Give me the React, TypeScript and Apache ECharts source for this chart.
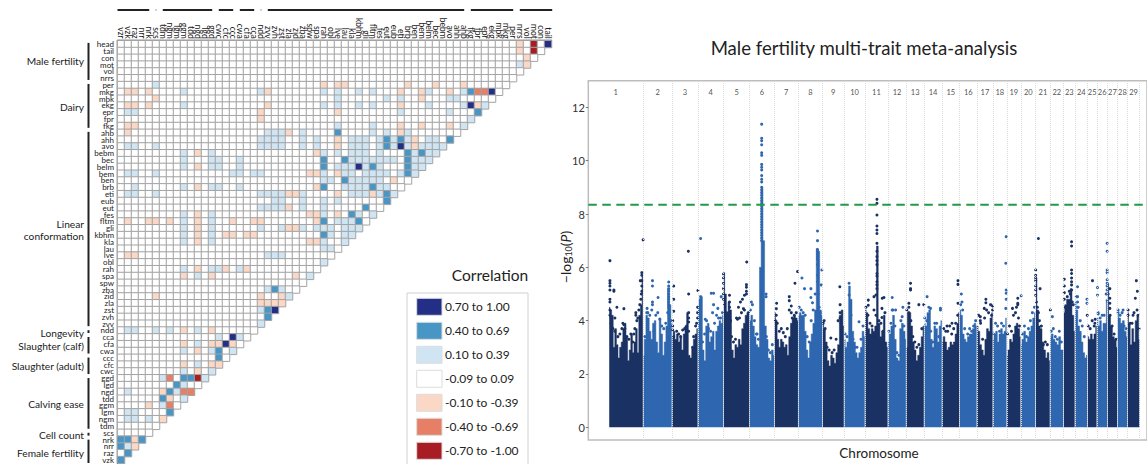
import React, { useEffect, useRef } from "react";
import * as echarts from "echarts";

const FONT = "Lato";

// ---------- correlation matrix ----------
const rowTraits = ["head","tail","con","mot","vol","nrrs","per","mkg","mbk","ekg","epr","fpr","fkg","ahb","ahh","avo","bebm","bec","belm","bem","ben","brb","eti","eub","eut","fes","fltm","gli","kbhm","kla","lau","lve","obl","rah","spa","spw","zba","zid","zla","zst","zvh","zvv","ndd","cca","cfa","cwa","ccc","cfc","cwc","ggd","lgd","ngd","tdd","ggm","lgm","ngm","tdm","scs","nrk","nrr","raz","vzk"];
const colTraits = ["vzr","vzk","raz","nrr","nrk","scs","tdm","ngm","lgm","ggm","tdd","ngd","lgd","ggd","cwc","cfc","ccc","cwa","cfa","cca","ndd","zvv","zvh","zst","zla","zid","zba","spw","spa","rah","obl","lve","lau","kla","kbhm","gli","fltm","fes","eut","eub","eti","brb","ben","bem","belm","bec","bebm","avo","ahh","ahb","fkg","fpr","epr","ekg","mbk","mkg","per","nrrs","vol","mot","con","tail"];

// [row index, column indices] per correlation class
type Cells = [number, number[]][];
const strongPos: Cells = [[0,[61]],[7,[53]],[9,[50]],[15,[40]],[18,[34]],[39,[22]],[43,[16]],[44,[15]]];
const midPos: Cells = [[7,[50]],[10,[51]],[13,[31]],[14,[38,40,47]],[15,[38]],[16,[41,43]],[17,[29,32,41]],[18,[29,36,41]],[19,[41]],[20,[32]],[21,[29,36]],[22,[38]],[23,[38]],[24,[35]],[25,[33]],[26,[29,34]],[28,[29]],[36,[22]],[39,[21]],[40,[21]],[45,[14]],[46,[14]],[49,[9,10]],[50,[8]],[51,[7]],[52,[6]],[54,[7]],[58,[0,1,3]],[59,[0]],[60,[1]],[61,[0]]];
const weakPos: Cells = [[3,[57]],[6,[5]],[7,[9,20,29,31,34,36,44,49]],[8,[31,38,40,47,48]],[9,[9,29,31,34,36,44,49,52]],[10,[1,2,40,47]],[11,[50]],[12,[31,36,49]],[13,[21,22,23,26,36,38,41]],[14,[20,21,22,23,26,28,33,34,35,37,39,41,44,45]],[15,[1,2,5,20,21,22,23,26,28,33,34,35,37,39,41,43,44,45,46]],[16,[9,13,29,31,33,34,35,37,42,44,45]],[17,[9,13,14,17,33,34,35,36,37,38,39,42,43,44]],[18,[9,13,14,17,31,32,33,35,37,42,43]],[19,[1,2,5,16,17,19,20,29,32,33,35,36,37,38,40,42]],[20,[29,30,33,34,35,36,37]],[21,[2,9,13,14,17,32,33,34,35,37,38]],[22,[1,2,5,20,21,22,23,26,33,34,35,37,39]],[23,[22,23,26,29,31]],[24,[20,21,22,23,26,29]],[25,[9,13,29,34,36]],[26,[9,13,31,32,33]],[27,[9,13,20,23,26,28,29,30,32,33,34]],[28,[9,13,30,32,33]],[29,[9,13,29,32]],[30,[29,30]],[31,[21,22,23]],[32,[29]],[33,[9,13,14,17]],[34,[11,27]],[36,[21,23]],[37,[24]],[39,[20]],[41,[20]],[42,[1,2,5,7,11]],[43,[14,17]],[44,[11]],[45,[9,13,16]],[47,[11]],[48,[9,13]],[49,[6,12]],[50,[9]],[51,[1,8]],[52,[9]],[53,[6]],[54,[1,2]],[55,[1,2,4]],[59,[1]]];
const weakNeg: Cells = [[0,[57]],[1,[57]],[2,[58]],[3,[58]],[6,[29,31,32,41,45,49]],[7,[1,2,4,21,40,43,47]],[8,[5,43]],[9,[1,2,4,21,40,51]],[10,[20,31]],[11,[20]],[12,[1,2,40,43,47]],[13,[1,24,40]],[14,[31,42]],[15,[31,42]],[16,[11,28]],[18,[11]],[19,[27,28,31]],[20,[39]],[21,[11,28]],[22,[24,25,31,36]],[24,[24]],[25,[11,27,28,31]],[26,[1,4,5,7,11,16,19,20,28]],[27,[11,24,25]],[28,[11,15,16,18,19]],[29,[11,27,28]],[31,[1,2]],[33,[11,15,18]],[34,[9,13,25]],[37,[5,20,23]],[38,[20,21,22,23]],[42,[9,13]],[44,[9,13,14,16]],[45,[11]],[47,[9,13,14]],[48,[11]],[51,[6]],[52,[7]],[53,[4]],[55,[6]],[58,[2]],[59,[2]]];
const midNeg: Cells = [[7,[51,52]],[49,[7]],[51,[9,10]],[53,[7]]];
const strongNeg: Cells = [[0,[59]],[1,[59]],[49,[11]]];

const legendLabels = ["0.70 to 1.00","0.40 to 0.69","0.10 to 0.39","-0.09 to 0.09","-0.10 to -0.39","-0.40 to -0.69","-0.70 to -1.00"];
const legendColors = ["#232f86","#4896c6","#d0e5f3","#ffffff","#fbd7c5","#e67f65","#a81c24"];
const classValues = [0.85,0.55,0.25,0,-0.25,-0.55,-0.85];

const groupLabels = [
  { text: "Male fertility", first: 0, last: 5, y: 61 },
  { text: "Dairy", first: 6, last: 12, y: 107 },
  { text: "Linear", first: 13, last: 41, y: 224 },
  { text: "conformation", first: -1, last: -1, y: 235.7 },
  { text: "Longevity", first: 42, last: 42, y: 332.7 },
  { text: "Slaughter (calf)", first: 43, last: 45, y: 345.7 },
  { text: "Slaughter (adult)", first: 46, last: 48, y: 366 },
  { text: "Calving ease", first: 49, last: 56, y: 404 },
  { text: "Cell count", first: 57, last: 57, y: 435 },
  { text: "Female fertility", first: 58, last: 61, y: 453.3 },
];
const topGroups = [[0,4],[5,5],[6,13],[14,16],[17,19],[20,20],[21,49],[50,56],[57,61]];

// ---------- Manhattan plot ----------
const chromosomes = Array.from({ length: 29 }, (_, i) => String(i + 1));
const chromEdges = [0,34.3,63.3,89.3,115,141.3,166,190,214.3,236,257,280,298.3,316.3,334.3,352,369.3,385.3,399.3,413.3,428.3,442.7,456.3,467.7,480.3,489.7,500.3,510.3,520.3,532.7];
const threshold = 8.35;
const yTicks = [0,2,4,6,8,10,12];

// skyline (top of the solid band) per chromosome, left to right
const chromTops = [
  [4.5,4.4,4.2,3.0,3.7,3.1,2.6,3.0,3.2,3.7,3.9,3.4,2.5,2.9,3.5,2.8,3.2,3.7,2.8,4.2,4.6,5.7],
  [2.7,3.3,4.2,4.1,3.6,3.3,3.9,4.0,3.2,2.8,4.1,3.5,2.7,3.2,3.8,5.2,4.6,3.9],
  [3.4,3.6,3.3,3.5,3.2,3.4,2.9,3.5,3.8,4.3,2.7,2.6,3.0,3.3,3.5,3.7],
  [4.5,4.8,4.9,2.9,2.5,3.8,3.9,3.2,3.4,3.6,2.9,3.6,3.8,4.0,3.9,4.2],
  [5.8,5.0,4.3,4.7,4.4,2.9,2.6,3.1,3.0,3.3,3.1,3.7,3.9,4.2,4.3,4.3],
  [4.0,4.2,3.8,3.4,3.1,3.0,6.0,9.0,7.0,3.8,3.3,2.6,2.5,2.9,2.7],
  [4.3,4.0,3.3,3.0,3.3,3.2,3.0,3.1,2.7,3.4,3.9,4.1,4.2,4.1,4.0],
  [4.2,4.3,4.2,4.2,3.6,2.9,2.6,3.2,3.5,3.9,4.4,6.7,6.6,4.4,4.2],
  [4.0,3.7,3.2,2.5,2.3,2.7,2.6,2.4,2.8,3.1,4.2,4.4,3.8],
  [3.3,3.0,3.2,5.3,4.8,3.6,3.2,2.8,2.6,2.8,3.0,3.6,3.4],
  [4.4,4.3,3.7,3.5,3.7,3.6,3.8,6.8,3.9,3.4,3.6,4.2,3.2,3.0],
  [3.2,3.5,3.8,4.2,3.3,2.6,2.5,3.7,3.9,3.6,3.3],
  [3.0,4.3,4.3,3.8,3.2,2.9,2.5,2.7,3.0,3.4,3.8],
  [3.9,3.8,4.3,4.4,3.3,3.0,3.8,3.7,3.2,3.8,4.0],
  [3.2,3.4,3.2,2.9,3.0,3.2,3.1,3.2,3.5,3.9,4.3],
  [4.4,4.2,3.5,3.3,3.2,3.4,3.5,3.5,3.7,3.9,3.8],
  [3.8,3.6,3.1,2.9,2.7,3.3,3.7,3.6,4.1,4.3],
  [3.3,3.5,3.6,3.2,3.5,3.7,3.5,3.6,4.1],
  [2.7,2.9,3.3,3.2,3.5,3.8,3.9,3.7,3.4],
  [3.1,3.3,3.6,3.2,3.4,3.6,3.8,4.1,4.3],
  [5.6,4.4,3.8,3.7,3.2,2.9,2.6,2.8,2.5],
  [3.4,3.5,3.3,3.2,3.1,3.4,2.9,2.9],
  [4.3,4.6,4.8,4.8,5.2,4.2,3.6],
  [4.7,4.4,3.8,3.6,3.2,2.8,2.6,2.7],
  [3.4,3.3,3.5,3.3,3.5,3.8],
  [4.1,3.8,4.0,3.6,3.9,3.9,4.7],
  [5.4,4.2,3.8,3.4,3.3,3.0],
  [4.3,4.1,3.9,4.0,3.6,3.4],
  [4.3,3.9,3.1,3.7,3.2,4.0,4.2,3.3],
];

// [genome position, -log10 P] points above the band, odd chromosomes
const darkPoints = [[1,6.25],[1,5.5],[1,5.4],[1,5.3],[1,5.15],[5,5.1],[5,5.15],[1,4.8],[1,4.7],[8,4.5],[15,4.45],[6,4.1],[27,4.3],[27,4.2],[31.5,5.5],[33,5.8],[33,5.7],[33,5.5],[32.5,5.0],[33,5.3],[33,5.1],[34.3,7.03],[65,5.3],[65,4.8],[65,4.35],[64,4.0],[64,3.8],[64,3.65],[79.7,6.6],[80,5.0],[80,4.3],[80,4.1],[80,3.95],[89.3,5.13],[89,4.5],[89,4.3],[89,4.1],[115,5.75],[115,5.6],[115,5.4],[115,5.2],[115,5.0],[115,4.8],[121,4.95],[121,4.7],[121,4.5],[121,4.3],[138.3,6.2],[138,5.35],[138,5.25],[138,5.1],[138,5.0],[136,4.95],[134,4.8],[132,4.7],[130,4.5],[128,4.1],[168.3,4.65],[168,4.45],[168,4.2],[181,4.9],[181,4.75],[183,4.55],[183,4.3],[186.7,5.4],[189.3,5.84],[216,4.0],[222.7,3.35],[231.7,5.27],[232,4.6],[232,4.3],[232,4.1],[269,8.55],[269,8.4],[269,7.96],[269,7.55],[269,7.4],[269,7.27],[269,6.9],[269,6.6],[269,6.4],[269,6.25],[269,6.1],[269,5.77],[269,5.67],[269,5.46],[269,5.34],[269,5.2],[268,4.96],[260.3,4.77],[260.3,4.58],[274.3,4.84],[276,4.87],[274,4.46],[274,4.12],[266,4.9],[302.7,5.4],[302.7,5.2],[302.7,5.15],[301,4.65],[301,4.5],[311,4.6],[316,4.6],[350.3,5.5],[350.3,5.36],[350.3,4.65],[344.3,3.9],[339.3,3.8],[372.7,4.15],[372.7,4.0],[378.3,4.8],[378.3,4.67],[376.7,4.46],[385,4.55],[385,4.4],[410.3,4.84],[410.3,4.65],[410.3,4.6],[405,4.46],[428.3,5.9],[428.3,5.7],[428.3,5.6],[428.3,5.5],[428.3,5.3],[428.3,5.15],[428.3,4.95],[432.7,5.2],[431,7.08],[443,4.4],[464.3,6.96],[464.3,6.8],[464.3,5.9],[464.3,5.77],[464.3,5.6],[464.3,5.46],[464.3,5.34],[464.3,5.15],[457,5.55],[457,5.3],[457,5.05],[485.3,5.5],[480,4.2],[487.7,3.9],[502.7,5.2],[502.7,4.84],[502.7,4.65],[502.7,4.46],[529.3,5.5],[528.3,4.84],[530.3,5.1],[521,4.4],[526,4.2],[531,4.2],
  [1,4.4],[1,4.2],[2,4.1],[2,3.9],[4,3.7],[6,3.6],[9,3.4],[11,3.5],[13,3.7],[14,3.9],[15,3.85],[16,3.7],[18,3.4],[20,3.3],[22,3.5],[24,3.2],[25,3.5],[26,3.7],[28,4.0],[29,4.1],[30,4.4],[31,4.6],[32,4.8],
  [65,3.4],[68,3.6],[70,3.5],[72,3.4],[74,3.65],[76,3.7],[78,3.8],[80,3.6],[84,3.0],[85,3.4],[87,3.8],[88,3.9],
  [116,4.6],[118,4.3],[119,4.2],[122,4.0],[123,3.4],[125,3.2],[127,3.3],[129,4.05],[131,4.1],[133,4.3],[135,4.45],[136,4.4],[140,4.3],
  [167,4.0],[169,3.9],[171,3.6],[173,3.7],[175,3.55],[177,3.4],[179,3.7],[181,4.4],[184,4.1],[186,4.2],[188,4.3],
  [215,3.9],[217,3.7],[219,3.0],[221,2.9],[224,2.8],[226,2.9],[228,3.3],[230,4.0],[233,3.9],
  [258,4.5],[260,4.2],[262,3.9],[264,3.8],[266,4.4],[268,4.2],[271,4.0],[273,3.9],[275,3.6],[277,4.3],
  [299,4.4],[301,4.3],[303,4.0],[305,3.4],[307,3.2],[309,3.0],[311,3.1],[314,3.7],
  [336,3.7],[338,3.6],[340,3.6],[342,3.8],[344,3.5],[346,3.7],[348,3.9],[350,4.2],
  [371,4.2],[373,3.9],[375,3.3],[377,4.1],[379,4.4],[381,4.3],[383,4.6],[384,4.2],
  [400,3.5],[402,3.8],[404,3.6],[406,4.2],[408,4.3],[409,4.5],[411,4.1],[412,3.8],
  [429,4.7],[430,4.5],[431,4.3],[432,4.0],[434,3.8],[436,3.1],[438,3.2],[440,3.1],
  [457,4.8],[458,4.5],[460,4.9],[462,5.1],[463,5.0],[465,4.7],[466,4.6],
  [481,3.8],[483,3.7],[485,4.0],[487,3.8],[488,4.05],
  [501,5.0],[503,4.2],[505,3.8],[507,3.5],[509,3.3],
  [521,4.2],[523,3.9],[525,3.9],[527,4.3],[530,4.4],[532,3.7]];
// even chromosomes
const lightPoints = [[43.7,5.5],[43.7,5.3],[43.7,4.7],[43.7,4.6],[49.3,4.87],[38.3,4.46],[60,5.45],[60,5.3],[60,5.2],[60,5.1],[60,5.0],[60,4.9],[60,4.8],[60,4.7],[60,4.6],[60,4.5],[105,5.03],[102.7,5.03],[105,4.6],[112.7,4.9],[109.3,4.46],[96.7,4.05],[92,7.08],[92,4.9],[92,4.8],[92,4.7],[92,4.6],[143,4.7],[148.7,3.5],[157.7,5.0],[157.7,4.9],[153.3,11.37],[153.3,10.84],[153.3,10.75],[153.3,10.6],[153.3,10.3],[153.3,10.2],[153.3,9.86],[153.3,9.75],[153.3,9.65],[153.3,9.44],[153.3,9.3],[153.3,9.2],[153.3,9.0],[153.3,8.9],[153.3,8.8],[153.3,8.7],[153.3,8.6],[153.3,8.5],[153.3,8.4],[153.3,8.3],[153.3,8.2],[153.3,8.1],[153.3,8.0],[153.3,7.9],[153.3,7.8],[153.3,7.7],[153.3,7.6],[153.3,7.5],[153.3,7.4],[153.3,7.3],[153.3,7.2],[153.3,7.1],[153.3,7.0],[209.3,7.36],[209.3,7.0],[209.3,6.67],[209.3,6.6],[209.3,6.5],[209.3,6.4],[209.3,6.3],[209.3,6.1],[209.3,5.7],[209.3,5.46],[193.7,5.6],[196.3,5.2],[202.7,5.2],[202.7,4.87],[204.3,4.67],[213.7,5.9],[213,5.34],[241,5.4],[241,4.96],[251,3.96],[284.3,4.87],[284.3,4.4],[287.7,4.4],[295,4.5],[294.3,4.15],[319.3,4.9],[322.7,4.46],[332.7,4.46],[332.7,4.4],[353.7,5.0],[354.3,4.7],[398.7,7.15],[398.3,6.15],[398.7,5.15],[398.7,5.03],[398.7,4.8],[398.3,4.46],[413.7,4.93],[445,4.15],[470.3,5.27],[470.3,4.9],[470.3,4.7],[470.3,4.5],[479.7,4.8],[479.7,4.65],[500,6.9],[500,6.6],[500,5.9],[500,5.8],[500,5.53],[500,5.4],[500,5.3],[500,5.15],[500,5.0],[500,4.75],[490.3,5.24],[490.3,4.96],[491,4.25],[516,4.4],[511,4.3],
  [36,3.4],[38,4.3],[39,4.3],[41,4.2],[43,4.4],[45,3.6],[47,4.2],[49,4.3],[51,4.05],[53,3.8],[55,3.7],[57,3.9],[59,4.3],[62,4.0],
  [91,4.4],[94,3.2],[96,3.5],[98,4.0],[100,3.7],[102,3.6],[104,4.3],[106,3.9],[108,4.2],[110,4.1],[112,4.1],[114,4.3],
  [142,4.4],[144,4.6],[146,4.0],[148,3.5],[150,3.3],[156,3.6],[158,3.4],[160,2.9],[162,2.8],[164,3.1],
  [191,4.5],[193,4.4],[195,4.3],[197,4.2],[199,3.4],[201,3.2],[203,4.0],[205,4.4],[207,5.0],[210,5.0],[211,4.5],[212,4.3],
  [237,3.5],[239,3.4],[243,4.2],[245,3.3],[247,3.0],[249,3.0],[253,3.3],[255,3.8],
  [281,3.6],[283,3.9],[285,4.4],[287,3.8],[289,2.8],[291,2.7],[293,4.0],[296,3.8],
  [317,4.1],[319,4.0],[321,4.5],[323,3.6],[325,3.2],[327,3.9],[329,3.9],[331,3.4],
  [353,4.6],[355,4.4],[357,3.7],[360,3.5],[362,3.7],[364,3.6],[366,3.8],[368,4.0],
  [386,3.5],[388,3.9],[390,3.8],[392,3.6],[394,3.9],[396,3.8],
  [415,3.5],[417,3.8],[419,3.4],[421,3.7],[423,4.0],[425,4.3],[427,4.5],
  [444,3.6],[446,3.7],[448,3.4],[450,3.3],[452,3.6],[454,3.2],
  [469,4.9],[471,4.5],[473,4.0],[475,3.8],[477,3.4],
  [491,4.3],[493,4.1],[495,4.2],[497,4.2],[499,5.0],
  [511,4.4],[513,4.2],[515,4.3],[517,3.8],[519,3.7]];

// ---------- layout ----------
const HM = { left: 117.5, top: 40.7, cellW: 7, cellH: 6.84 };
const MH = { left: 588.3, top: 80.7, bottom: 440, zeroX: 609 };

function App() {
  const ref = useRef<HTMLDivElement>(null);
  useEffect(() => {
    document.body.style.margin = "0";
    const chart = echarts.init(ref.current!, undefined, { renderer: "svg" });

    const classMap = new Map<string, number>();
    [strongPos, midPos, weakPos, undefined, weakNeg, midNeg, strongNeg].forEach((list, k) => {
      (list || []).forEach(([r, cols]) => cols.forEach((c) => classMap.set(r + "_" + c, classValues[k])));
    });
    const heat: number[][] = [];
    rowTraits.forEach((_, r) => {
      for (let c = 0; c < 62 - r; c++) heat.push([c, r, classMap.get(r + "_" + c) ?? 0]);
    });

    const areaSeries = chromTops.map((tops, i) => {
      const a = chromEdges[i] + 0.3;
      const b = chromEdges[i + 1] - 0.3;
      const color = i % 2 === 0 ? "#1a3263" : "#2e67af";
      return {
        type: "line", xAxisIndex: 1, yAxisIndex: 1, name: "chr" + (i + 1), showSymbol: false, silent: true, z: 3, step: "middle",
        lineStyle: { width: 0.5, color }, areaStyle: { color, opacity: 1 }, itemStyle: { color },
        data: tops.map((v, k) => [a + ((b - a) * k) / (tops.length - 1), v]),
      };
    });

    const graphic: any[] = [];
    const line = (x1: number, y1: number, x2: number, y2: number, stroke: string, lw: number) =>
      graphic.push({ type: "line", silent: true, shape: { x1, y1, x2, y2 }, style: { stroke, lineWidth: lw } });
    const text = (x: number, y: number, t: string, size: number, align = "right") =>
      graphic.push({ type: "text", silent: true, x, y, style: { text: t, x: 0, y: 0, fill: "#222", font: `${size}px ${FONT}`, textAlign: align, textVerticalAlign: "middle" } });

    topGroups.forEach(([a, b], i) =>
      line(HM.left + a * HM.cellW + (i === 0 ? 0 : 3.3), 10, HM.left + (b + 1) * HM.cellW + (i === topGroups.length - 1 ? 0.7 : -3.3), 10, "#222", 2));
    groupLabels.forEach((g) => {
      text(84, g.y, g.text, 10.2);
      if (g.first >= 0) line(88.5, HM.top + g.first * HM.cellH + 2.2, 88.5, HM.top + (g.last + 1) * HM.cellH - 1.8, "#222", 2);
    });

    text(490, 275, "Correlation", 15.5, "center");
    graphic.push({ type: "rect", silent: true, shape: { x: 407, y: 293, width: 121, height: 180 }, style: { fill: "#fff", stroke: "#d0d0d0", lineWidth: 1 } });
    legendLabels.forEach((lab, i) => {
      const y = 298.3 + i * 24;
      graphic.push({ type: "rect", silent: true, shape: { x: 416.7, y, width: 25.3, height: 17 }, style: { fill: legendColors[i], stroke: "#dcdcdc", lineWidth: 1 } });
      text(445, y + 8.5, lab, 12, "left");
    });

    graphic.push({ type: "text", silent: true, x: 565, y: 257, rotation: Math.PI / 2, style: { x: 0, y: 0, text: "{a|\u2212log}{s|10}{a|(}{i|P}{a|)}", textAlign: "center", textVerticalAlign: "middle", rich: { a: { font: `14px ${FONT}`, fill: "#222" }, s: { font: `9px ${FONT}`, fill: "#222", verticalAlign: "bottom", padding: [6, 0, 0, 0] }, i: { font: `italic 14px ${FONT}`, fill: "#222" } } } });
    text(879, 452.7, "Chromosome", 13.5, "center");

    chart.setOption({
      animation: false,
      backgroundColor: "#fff",
      textStyle: { fontFamily: FONT },
      title: { text: "Male fertility multi-trait meta-analysis", left: 859, top: 33, textAlign: "center", textStyle: { fontFamily: FONT, fontSize: 18.6, fontWeight: "normal", color: "#222" } },
      visualMap: { show: false, type: "piecewise", seriesIndex: 0, dimension: 2, pieces: [
        { min: 0.7, max: 1, color: legendColors[0] },
        { min: 0.4, max: 0.69, color: legendColors[1] },
        { min: 0.1, max: 0.39, color: legendColors[2] },
        { min: -0.09, max: 0.09, color: legendColors[3] },
        { min: -0.39, max: -0.1, color: legendColors[4] },
        { min: -0.69, max: -0.4, color: legendColors[5] },
        { min: -1, max: -0.7, color: legendColors[6] },
      ] },
      grid: [
        { left: HM.left, top: HM.top, width: 62 * HM.cellW, height: 62 * HM.cellH, containLabel: false },
        { left: MH.left, top: MH.top, right: -2, height: MH.bottom - MH.top, show: true, borderColor: "#bdbdbd", borderWidth: 1.5, backgroundColor: "transparent", containLabel: false },
      ],
      xAxis: [
        { type: "category", gridIndex: 0, data: colTraits, position: "top", axisTick: { show: false }, axisLine: { lineStyle: { color: "#333", width: 1.3 } }, splitLine: { show: false },
          axisLabel: { interval: 0, rotate: 90, fontSize: 8.5, color: "#222", margin: 2, fontFamily: FONT } },
        { type: "value", gridIndex: 1, min: MH.left - MH.zeroX, max: 540, axisLine: { show: false, onZero: false }, axisTick: { show: false }, axisLabel: { show: false }, splitLine: { show: false } },
      ],
      yAxis: [
        { type: "category", gridIndex: 0, data: rowTraits, inverse: true, axisTick: { show: false }, axisLine: { lineStyle: { color: "#333", width: 1.3 } }, splitLine: { show: false },
          axisLabel: { interval: 0, fontSize: 8, color: "#222", margin: 3.5, fontFamily: FONT } },
        { type: "value", gridIndex: 1, position: "left", min: -0.477, max: 13, splitLine: { show: false }, axisLine: { show: false, onZero: false },
          axisTick: { show: true, length: 2.5, customValues: yTicks, lineStyle: { color: "#777" } },
          axisLabel: { fontSize: 11, color: "#333", margin: 3.5, fontFamily: FONT, customValues: yTicks } },
      ],
      graphic,
      series: [
        { type: "heatmap", xAxisIndex: 0, yAxisIndex: 0, data: heat, silent: true, progressive: 0, itemStyle: { borderColor: "#a3a3a3", borderWidth: 1 } },
        ...areaSeries,
        { type: "scatter", name: "odd chromosomes", xAxisIndex: 1, yAxisIndex: 1, data: darkPoints, symbolSize: 3, itemStyle: { color: "#1a3263", opacity: 1 }, silent: true, z: 4 },
        { type: "scatter", name: "even chromosomes", xAxisIndex: 1, yAxisIndex: 1, data: lightPoints, symbolSize: 3, itemStyle: { color: "#2e67af", opacity: 1 }, silent: true, z: 4 },
        { type: "scatter", name: "labels", xAxisIndex: 1, yAxisIndex: 1, symbolSize: 0, silent: true, z: 6,
          data: chromosomes.map((name, i) => ({ name, value: [((i === 0 ? MH.left - MH.zeroX : chromEdges[i]) + chromEdges[i + 1]) / 2, 12.54] })),
          label: { show: true, position: "inside", formatter: "{b}", fontSize: 7.5, color: "#222", fontFamily: FONT },
          markLine: { silent: true, symbol: "none", label: { show: false }, lineStyle: { color: "#dcdcdc", type: "dotted", width: 1 }, data: chromEdges.slice(1).map((x) => ({ xAxis: x })) },
        },
        { type: "line", name: "threshold", xAxisIndex: 1, yAxisIndex: 1, showSymbol: false, silent: true, z: 7, data: [[MH.left - MH.zeroX, threshold], [540, threshold]], lineStyle: { color: "#1f9d46", width: 2, type: [8.5, 5.5] } },
      ],
    });
    return () => chart.dispose();
  }, []);
  return <div ref={ref} style={{ position: "absolute", left: 0, top: 0, width: 1147, height: 464, overflow: "hidden" }} />;
}

export default App;
